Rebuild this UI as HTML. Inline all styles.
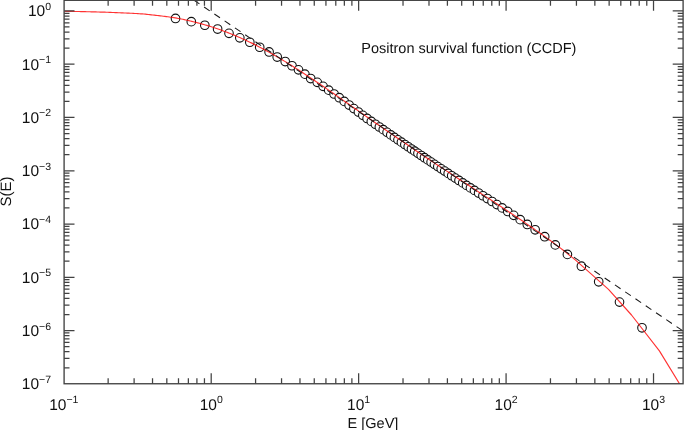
<!DOCTYPE html>
<html><head><meta charset="utf-8"><style>
html,body{margin:0;padding:0;background:#fff;}
svg{display:block;}
</style></head><body>
<svg width="685" height="430" viewBox="0 0 685 430">
<defs><clipPath id="c"><rect x="64.1" y="0.3" width="619.00" height="383.45"/></clipPath></defs>
<rect width="685" height="430" fill="#fff"/>
<g fill="#111" style="font-family:'Liberation Sans',sans-serif;filter:grayscale(1);text-rendering:geometricPrecision"><text x="51" y="16.25" text-anchor="end" font-size="15.5">10<tspan font-size="10.5" dy="-6.3">0</tspan></text><text x="51" y="69.52" text-anchor="end" font-size="15.5">10<tspan font-size="10.5" dy="-6.3">−1</tspan></text><text x="51" y="122.78" text-anchor="end" font-size="15.5">10<tspan font-size="10.5" dy="-6.3">−2</tspan></text><text x="51" y="176.05" text-anchor="end" font-size="15.5">10<tspan font-size="10.5" dy="-6.3">−3</tspan></text><text x="51" y="229.31" text-anchor="end" font-size="15.5">10<tspan font-size="10.5" dy="-6.3">−4</tspan></text><text x="51" y="282.57" text-anchor="end" font-size="15.5">10<tspan font-size="10.5" dy="-6.3">−5</tspan></text><text x="51" y="335.84" text-anchor="end" font-size="15.5">10<tspan font-size="10.5" dy="-6.3">−6</tspan></text><text x="51" y="389.11" text-anchor="end" font-size="15.5">10<tspan font-size="10.5" dy="-6.3">−7</tspan></text><text x="63.76" y="409.5" text-anchor="middle" font-size="15.5">10<tspan font-size="10.5" dy="-6.3">−1</tspan></text><text x="211.20" y="409.5" text-anchor="middle" font-size="15.5">10<tspan font-size="10.5" dy="-6.3">0</tspan></text><text x="358.64" y="409.5" text-anchor="middle" font-size="15.5">10<tspan font-size="10.5" dy="-6.3">1</tspan></text><text x="506.08" y="409.5" text-anchor="middle" font-size="15.5">10<tspan font-size="10.5" dy="-6.3">2</tspan></text><text x="653.52" y="409.5" text-anchor="middle" font-size="15.5">10<tspan font-size="10.5" dy="-6.3">3</tspan></text><text x="361.3" y="52.9" font-size="14.5">Positron survival function (CCDF)</text><text x="347.6" y="427.7" font-size="14.5">E [GeV]</text><text transform="translate(11.0,206.4) rotate(-90)" font-size="15">S(E)</text></g>
<g clip-path="url(#c)">
<g fill="white" stroke="#111" stroke-width="1.1"><circle cx="175.50" cy="18.45" r="4.3"/><circle cx="191.30" cy="21.65" r="4.3"/><circle cx="204.80" cy="25.25" r="4.3"/><circle cx="217.60" cy="29.05" r="4.3"/><circle cx="229.00" cy="33.35" r="4.3"/><circle cx="239.80" cy="37.85" r="4.3"/><circle cx="249.80" cy="42.25" r="4.3"/><circle cx="259.70" cy="47.25" r="4.3"/><circle cx="269.10" cy="51.95" r="4.3"/><circle cx="277.20" cy="57.05" r="4.3"/><circle cx="285.20" cy="61.55" r="4.3"/><circle cx="292.00" cy="65.75" r="4.3"/><circle cx="298.50" cy="69.85" r="4.3"/><circle cx="304.90" cy="74.15" r="4.3"/><circle cx="310.70" cy="78.55" r="4.3"/><circle cx="317.25" cy="82.36" r="4.3"/><circle cx="323.09" cy="86.33" r="4.3"/><circle cx="328.69" cy="90.19" r="4.3"/><circle cx="334.08" cy="94.01" r="4.3"/><circle cx="339.27" cy="97.72" r="4.3"/><circle cx="344.26" cy="101.40" r="4.3"/><circle cx="349.12" cy="105.05" r="4.3"/><circle cx="353.85" cy="108.60" r="4.3"/><circle cx="358.41" cy="112.03" r="4.3"/><circle cx="362.82" cy="115.35" r="4.3"/><circle cx="367.11" cy="118.46" r="4.3"/><circle cx="371.31" cy="121.39" r="4.3"/><circle cx="375.41" cy="124.24" r="4.3"/><circle cx="379.37" cy="126.99" r="4.3"/><circle cx="383.26" cy="129.69" r="4.3"/><circle cx="387.07" cy="132.33" r="4.3"/><circle cx="390.78" cy="134.89" r="4.3"/><circle cx="394.41" cy="137.39" r="4.3"/><circle cx="397.96" cy="139.82" r="4.3"/><circle cx="401.43" cy="142.18" r="4.3"/><circle cx="404.85" cy="144.50" r="4.3"/><circle cx="408.20" cy="146.77" r="4.3"/><circle cx="411.49" cy="149.00" r="4.3"/><circle cx="414.73" cy="151.18" r="4.3"/><circle cx="417.95" cy="153.34" r="4.3"/><circle cx="421.20" cy="155.52" r="4.3"/><circle cx="424.47" cy="157.70" r="4.3"/><circle cx="427.77" cy="159.90" r="4.3"/><circle cx="431.10" cy="162.11" r="4.3"/><circle cx="434.43" cy="164.33" r="4.3"/><circle cx="437.81" cy="166.57" r="4.3"/><circle cx="441.23" cy="168.84" r="4.3"/><circle cx="444.69" cy="171.12" r="4.3"/><circle cx="448.18" cy="173.41" r="4.3"/><circle cx="451.72" cy="175.73" r="4.3"/><circle cx="455.33" cy="178.09" r="4.3"/><circle cx="458.99" cy="180.47" r="4.3"/><circle cx="462.72" cy="182.91" r="4.3"/><circle cx="466.54" cy="185.39" r="4.3"/><circle cx="470.45" cy="187.93" r="4.3"/><circle cx="474.48" cy="190.44" r="4.3"/><circle cx="478.62" cy="193.04" r="4.3"/><circle cx="482.91" cy="195.73" r="4.3"/><circle cx="487.37" cy="198.54" r="4.3"/><circle cx="492.04" cy="201.48" r="4.3"/><circle cx="496.95" cy="204.59" r="4.3"/><circle cx="502.15" cy="207.90" r="4.3"/><circle cx="507.72" cy="211.45" r="4.3"/><circle cx="513.69" cy="215.35" r="4.3"/><circle cx="520.18" cy="219.67" r="4.3"/><circle cx="527.29" cy="224.45" r="4.3"/><circle cx="535.15" cy="229.79" r="4.3"/><circle cx="544.70" cy="236.70" r="4.3"/><circle cx="555.30" cy="244.90" r="4.3"/><circle cx="567.40" cy="254.40" r="4.3"/><circle cx="581.40" cy="266.20" r="4.3"/><circle cx="598.70" cy="281.80" r="4.3"/><circle cx="619.50" cy="302.10" r="4.3"/><circle cx="642.00" cy="327.80" r="4.3"/></g>
<polyline points="64.3,11.30 65.8,11.32 67.3,11.34 68.8,11.36 70.3,11.38 71.8,11.40 73.3,11.43 74.8,11.45 76.3,11.48 77.8,11.51 79.3,11.54 80.8,11.57 82.3,11.61 83.8,11.64 85.3,11.67 86.8,11.71 88.3,11.74 89.8,11.78 91.3,11.82 92.8,11.86 94.3,11.90 95.8,11.94 97.3,11.98 98.8,12.02 100.3,12.06 101.8,12.10 103.3,12.15 104.8,12.19 106.3,12.24 107.8,12.30 109.3,12.35 110.8,12.40 112.3,12.46 113.8,12.52 115.3,12.58 116.8,12.64 118.3,12.70 119.8,12.77 121.3,12.83 122.8,12.90 124.3,12.96 125.8,13.03 127.3,13.10 128.8,13.16 130.3,13.23 131.8,13.30 133.3,13.38 134.8,13.46 136.3,13.54 137.8,13.63 139.3,13.72 140.8,13.82 142.3,13.92 143.8,14.04 145.3,14.18 146.8,14.33 148.3,14.49 149.8,14.65 151.3,14.83 152.8,15.00 154.3,15.17 155.8,15.34 157.3,15.51 158.8,15.68 160.3,15.85 161.8,16.03 163.3,16.21 164.8,16.40 166.3,16.59 167.8,16.79 169.3,17.00 170.8,17.22 172.3,17.44 173.8,17.68 175.3,17.93 176.8,18.18 178.3,18.45 179.8,18.72 181.3,19.01 182.8,19.31 184.3,19.62 185.8,19.95 187.3,20.28 188.8,20.63 190.3,20.98 191.8,21.33 193.3,21.70 194.8,22.08 196.3,22.46 197.8,22.86 199.3,23.26 200.8,23.67 202.3,24.09 203.8,24.52 205.3,24.95 206.8,25.40 208.3,25.85 209.8,26.32 211.3,26.80 212.8,27.28 214.3,27.77 215.8,28.28 217.3,28.78 218.8,29.30 220.3,29.83 221.8,30.37 223.3,30.92 224.8,31.48 226.3,32.05 227.8,32.62 229.3,33.21 230.8,33.80 232.3,34.41 233.8,35.02 235.3,35.65 236.8,36.28 238.3,36.92 239.8,37.57 241.3,38.23 242.8,38.91 244.3,39.59 245.8,40.28 247.3,40.98 248.8,41.69 250.3,42.41 251.8,43.14 253.3,43.88 254.8,44.63 256.3,45.39 257.8,46.16 259.3,46.94 260.8,47.72 262.3,48.51 263.8,49.32 265.3,50.13 266.8,50.95 268.3,51.78 269.8,52.61 271.3,53.46 272.8,54.31 274.3,55.17 275.8,56.04 277.3,56.92 278.8,57.80 280.3,58.69 281.8,59.58 283.3,60.48 284.8,61.38 286.3,62.30 287.8,63.22 289.3,64.14 290.8,65.08 292.3,66.02 293.8,66.96 295.3,67.91 296.8,68.87 298.3,69.83 299.8,70.80 301.3,71.77 302.8,72.74 304.3,73.72 305.8,74.71 307.3,75.70 308.8,76.69 310.3,77.69 311.8,78.70 313.3,79.70 314.8,80.71 316.3,81.72 317.8,82.74 319.3,83.75 320.8,84.77 322.3,85.79 323.8,86.82 325.3,87.85 326.8,88.88 328.3,89.92 329.8,90.96 331.3,92.00 332.8,93.05 334.3,94.09 335.8,95.14 337.3,96.18 338.8,97.23 340.3,98.27 341.8,99.32 343.3,100.36 344.8,101.41 346.3,102.46 347.8,103.51 349.3,104.56 350.8,105.62 352.3,106.67 353.8,107.72 355.3,108.78 356.8,109.83 358.3,110.89 359.8,111.94 361.3,112.99 362.8,114.04 364.3,115.10 365.8,116.14 367.3,117.19 368.8,118.24 370.3,119.28 371.8,120.33 373.3,121.37 374.8,122.41 376.3,123.46 377.8,124.50 379.3,125.54 380.8,126.59 382.3,127.63 383.8,128.67 385.3,129.71 386.8,130.74 388.3,131.78 389.8,132.82 391.3,133.85 392.8,134.88 394.3,135.91 395.8,136.94 397.3,137.97 398.8,138.99 400.3,140.02 401.8,141.04 403.3,142.05 404.8,143.07 406.3,144.09 407.8,145.10 409.3,146.12 410.8,147.13 412.3,148.14 413.8,149.15 415.3,150.16 416.8,151.17 418.3,152.17 419.8,153.18 421.3,154.18 422.8,155.18 424.3,156.19 425.8,157.19 427.3,158.19 428.8,159.19 430.3,160.19 431.8,161.18 433.3,162.18 434.8,163.18 436.3,164.17 437.8,165.17 439.3,166.16 440.8,167.15 442.3,168.14 443.8,169.13 445.3,170.12 446.8,171.11 448.3,172.09 449.8,173.07 451.3,174.06 452.8,175.04 454.3,176.02 455.8,176.99 457.3,177.97 458.8,178.95 460.3,179.93 461.8,180.90 463.3,181.88 464.8,182.86 466.3,183.84 467.8,184.82 469.3,185.79 470.8,186.77 472.3,187.75 473.8,188.74 475.3,189.72 476.8,190.70 478.3,191.69 479.8,192.68 481.3,193.66 482.8,194.65 484.3,195.64 485.8,196.62 487.3,197.61 488.8,198.60 490.3,199.58 491.8,200.57 493.3,201.56 494.8,202.55 496.3,203.53 497.8,204.52 499.3,205.51 500.8,206.50 502.3,207.50 503.8,208.49 505.3,209.48 506.8,210.48 508.3,211.48 509.8,212.48 511.3,213.48 512.8,214.49 514.3,215.50 515.8,216.51 517.3,217.52 518.8,218.53 520.3,219.55 521.8,220.57 523.3,221.59 524.8,222.62 526.3,223.64 527.8,224.67 529.3,225.70 530.8,226.73 532.3,227.77 533.8,228.80 535.3,229.85 536.8,230.89 538.3,231.94 539.8,233.00 541.3,234.06 542.8,235.13 544.3,236.20 545.8,237.27 547.3,238.36 548.8,239.44 550.3,240.54 551.8,241.64 553.3,242.75 554.8,243.86 556.3,244.99 557.8,246.12 559.3,247.25 560.8,248.40 562.3,249.56 563.8,250.72 565.3,251.88 566.8,253.06 568.3,254.25 569.8,255.44 571.3,256.65 572.8,257.86 574.3,259.08 575.0,259.66 608.5,289.40 631.5,315.00 659.4,350.90 681.0,386.20" fill="none" stroke="#ff0000" stroke-opacity="0.8" stroke-width="1.15" stroke-linejoin="round"/>
<line x1="183.55" y1="-6.88" x2="683.0" y2="330.95" stroke="#1a1a1a" stroke-width="1.05" stroke-dasharray="6.8 5.6"/>
</g>
<rect x="64.1" y="0.3" width="619.00" height="383.45" fill="none" stroke="#424242" stroke-width="1.35"/>
<path d="M108.14 383.75V378.35M108.14 0.30V5.70M134.11 383.75V378.35M134.11 0.30V5.70M152.53 383.75V378.35M152.53 0.30V5.70M166.82 383.75V378.35M166.82 0.30V5.70M178.49 383.75V378.35M178.49 0.30V5.70M188.36 383.75V378.35M188.36 0.30V5.70M196.91 383.75V378.35M196.91 0.30V5.70M204.45 383.75V378.35M204.45 0.30V5.70M211.20 383.75V373.35M211.20 0.30V10.70M255.58 383.75V378.35M255.58 0.30V5.70M281.55 383.75V378.35M281.55 0.30V5.70M299.97 383.75V378.35M299.97 0.30V5.70M314.26 383.75V378.35M314.26 0.30V5.70M325.93 383.75V378.35M325.93 0.30V5.70M335.80 383.75V378.35M335.80 0.30V5.70M344.35 383.75V378.35M344.35 0.30V5.70M351.89 383.75V378.35M351.89 0.30V5.70M358.64 383.75V373.35M358.64 0.30V10.70M403.02 383.75V378.35M403.02 0.30V5.70M428.99 383.75V378.35M428.99 0.30V5.70M447.41 383.75V378.35M447.41 0.30V5.70M461.70 383.75V378.35M461.70 0.30V5.70M473.37 383.75V378.35M473.37 0.30V5.70M483.24 383.75V378.35M483.24 0.30V5.70M491.79 383.75V378.35M491.79 0.30V5.70M499.33 383.75V378.35M499.33 0.30V5.70M506.08 383.75V373.35M506.08 0.30V10.70M550.46 383.75V378.35M550.46 0.30V5.70M576.43 383.75V378.35M576.43 0.30V5.70M594.85 383.75V378.35M594.85 0.30V5.70M609.14 383.75V378.35M609.14 0.30V5.70M620.81 383.75V378.35M620.81 0.30V5.70M630.68 383.75V378.35M630.68 0.30V5.70M639.23 383.75V378.35M639.23 0.30V5.70M646.77 383.75V378.35M646.77 0.30V5.70M653.52 383.75V373.35M653.52 0.30V10.70M64.10 367.77H69.50M683.10 367.77H677.70M64.10 358.39H69.50M683.10 358.39H677.70M64.10 351.74H69.50M683.10 351.74H677.70M64.10 346.57H69.50M683.10 346.57H677.70M64.10 342.36H69.50M683.10 342.36H677.70M64.10 338.79H69.50M683.10 338.79H677.70M64.10 335.70H69.50M683.10 335.70H677.70M64.10 332.98H69.50M683.10 332.98H677.70M64.10 330.54H74.50M683.10 330.54H672.70M64.10 314.51H69.50M683.10 314.51H677.70M64.10 305.13H69.50M683.10 305.13H677.70M64.10 298.47H69.50M683.10 298.47H677.70M64.10 293.31H69.50M683.10 293.31H677.70M64.10 289.09H69.50M683.10 289.09H677.70M64.10 285.53H69.50M683.10 285.53H677.70M64.10 282.44H69.50M683.10 282.44H677.70M64.10 279.71H69.50M683.10 279.71H677.70M64.10 277.27H74.50M683.10 277.27H672.70M64.10 261.24H69.50M683.10 261.24H677.70M64.10 251.86H69.50M683.10 251.86H677.70M64.10 245.21H69.50M683.10 245.21H677.70M64.10 240.04H69.50M683.10 240.04H677.70M64.10 235.83H69.50M683.10 235.83H677.70M64.10 232.26H69.50M683.10 232.26H677.70M64.10 229.17H69.50M683.10 229.17H677.70M64.10 226.45H69.50M683.10 226.45H677.70M64.10 224.01H74.50M683.10 224.01H672.70M64.10 207.98H69.50M683.10 207.98H677.70M64.10 198.60H69.50M683.10 198.60H677.70M64.10 191.94H69.50M683.10 191.94H677.70M64.10 186.78H69.50M683.10 186.78H677.70M64.10 182.56H69.50M683.10 182.56H677.70M64.10 179.00H69.50M683.10 179.00H677.70M64.10 175.91H69.50M683.10 175.91H677.70M64.10 173.18H69.50M683.10 173.18H677.70M64.10 170.75H74.50M683.10 170.75H672.70M64.10 154.71H69.50M683.10 154.71H677.70M64.10 145.33H69.50M683.10 145.33H677.70M64.10 138.68H69.50M683.10 138.68H677.70M64.10 133.51H69.50M683.10 133.51H677.70M64.10 129.30H69.50M683.10 129.30H677.70M64.10 125.73H69.50M683.10 125.73H677.70M64.10 122.64H69.50M683.10 122.64H677.70M64.10 119.92H69.50M683.10 119.92H677.70M64.10 117.48H74.50M683.10 117.48H672.70M64.10 101.45H69.50M683.10 101.45H677.70M64.10 92.07H69.50M683.10 92.07H677.70M64.10 85.41H69.50M683.10 85.41H677.70M64.10 80.25H69.50M683.10 80.25H677.70M64.10 76.03H69.50M683.10 76.03H677.70M64.10 72.47H69.50M683.10 72.47H677.70M64.10 69.38H69.50M683.10 69.38H677.70M64.10 66.65H69.50M683.10 66.65H677.70M64.10 64.22H74.50M683.10 64.22H672.70M64.10 48.18H69.50M683.10 48.18H677.70M64.10 38.80H69.50M683.10 38.80H677.70M64.10 32.15H69.50M683.10 32.15H677.70M64.10 26.98H69.50M683.10 26.98H677.70M64.10 22.77H69.50M683.10 22.77H677.70M64.10 19.20H69.50M683.10 19.20H677.70M64.10 16.11H69.50M683.10 16.11H677.70M64.10 13.39H69.50M683.10 13.39H677.70M64.10 10.95H74.50M683.10 10.95H672.70" stroke="#424242" stroke-width="1.25" fill="none"/>
</svg>
</body></html>
